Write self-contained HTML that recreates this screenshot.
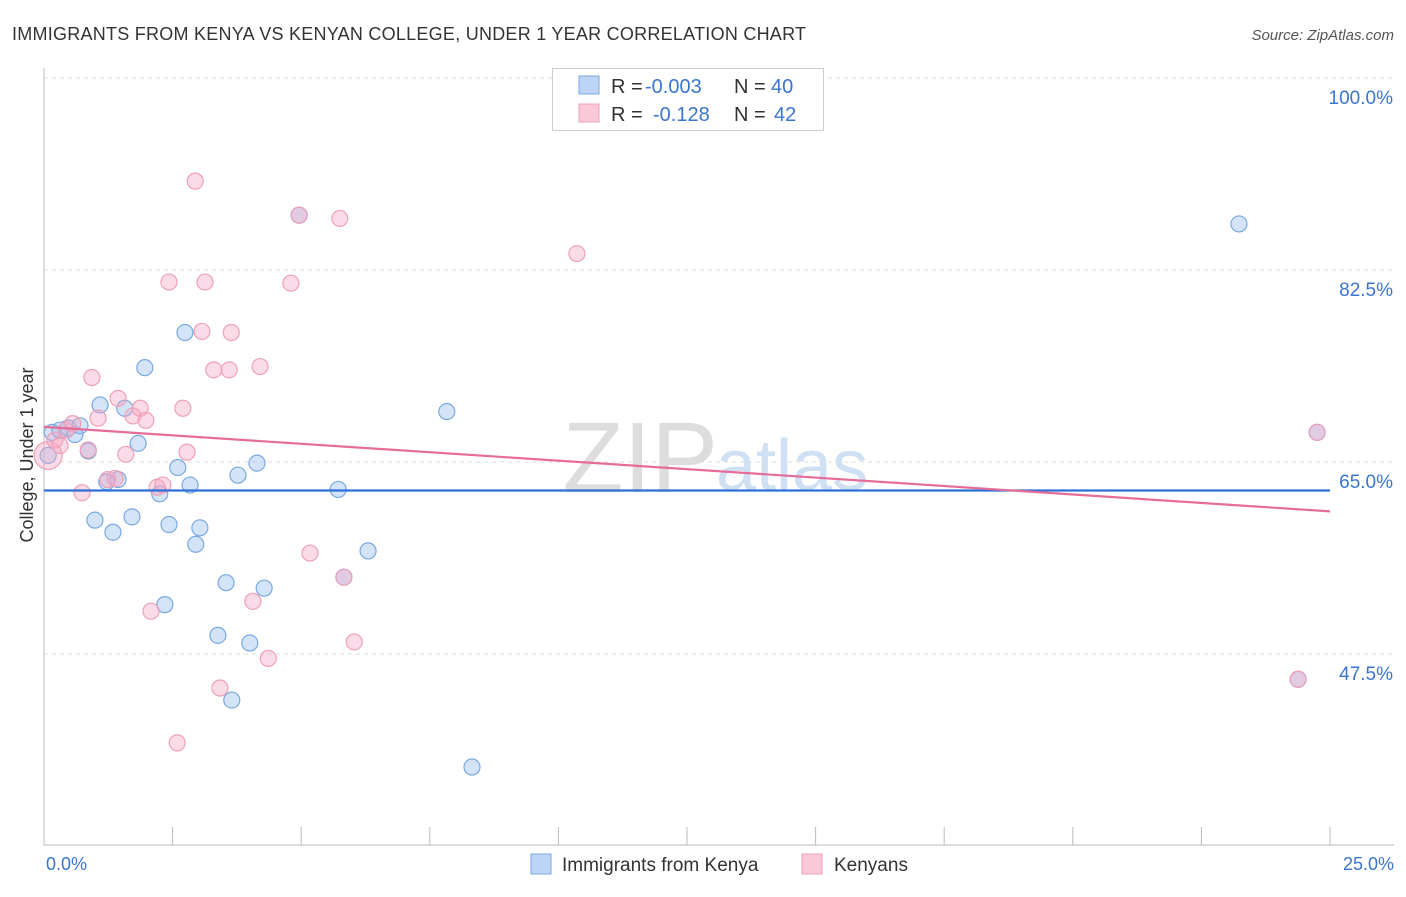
<!DOCTYPE html>
<html><head><meta charset="utf-8"><style>
body{margin:0;background:#fff;font-family:"Liberation Sans",sans-serif;}
svg text{font-family:"Liberation Sans",sans-serif;}
</style></head><body>
<svg id="chart" width="1406" height="892" viewBox="0 0 1406 892">
<text x="12" y="40" font-size="18" fill="#333" textLength="794" lengthAdjust="spacing">IMMIGRANTS FROM KENYA VS KENYAN COLLEGE, UNDER 1 YEAR CORRELATION CHART</text>
<text x="1394" y="40" font-size="15" fill="#555" text-anchor="end" font-style="italic">Source: ZipAtlas.com</text>
<g id="grid"></g>
<text x="718" y="492" font-size="100" font-family="Liberation Serif" fill="#ddd" text-anchor="end">ZIP</text>
<text x="716" y="490" font-size="72" fill="#cfe0f3">atlas</text>
<g id="axes"></g>
<g id="points"></g>
<g id="trend"></g>
<text x="33" y="455" font-size="18" fill="#333" text-anchor="middle" transform="rotate(-90 33 455)">College, Under 1 year</text>
<text x="46" y="870" font-size="18" fill="#3a75d0">0.0%</text>
<text x="1394" y="870" font-size="18" fill="#3a75d0" text-anchor="end">25.0%</text>
<g>
<rect x="552.5" y="68.5" width="271" height="62" fill="#fff" stroke="#ccc"/>
<rect x="579" y="76" width="20" height="18" fill="#bcd4f5" stroke="#7aa8e0"/>
<rect x="579" y="104" width="20" height="18" fill="#f9c9d8" stroke="#eea0b8"/>
<text x="611" y="93" font-size="20" fill="#333">R =</text>
<text x="645" y="93" font-size="20" fill="#3a75d0">-0.003</text>
<text x="734" y="93" font-size="20" fill="#333">N =</text>
<text x="771" y="93" font-size="20" fill="#3a75d0">40</text>
<text x="611" y="121" font-size="20" fill="#333">R =</text>
<text x="653" y="121" font-size="20" fill="#3a75d0">-0.128</text>
<text x="734" y="121" font-size="20" fill="#333">N =</text>
<text x="774" y="121" font-size="20" fill="#3a75d0">42</text>
</g>
<g>
<rect x="531" y="854" width="20" height="20" fill="#bcd4f5" stroke="#7aa8e0"/>
<text x="562" y="871" font-size="19" fill="#333">Immigrants from Kenya</text>
<rect x="802" y="854" width="20" height="20" fill="#f9c9d8" stroke="#eea0b8"/>
<text x="834" y="871" font-size="19" fill="#333">Kenyans</text>
</g>
</svg>
<script>
const yTicks=[100,82.5,65,47.5];
const yTickLabels=["100.0%","82.5%","65.0%","47.5%"];
const blueX=[0.16,0.31,0.47,0.60,0.70,0.86,1.09,1.22,1.44,0.99,1.34,1.57,1.71,1.83,1.96,2.25,2.35,2.43,2.60,2.74,2.84,2.95,3.03,3.38,3.54,3.65,3.77,4.00,4.14,4.28,4.96,5.72,5.83,6.30,7.83,8.32,23.23,24.75,24.38,0.08];
const blueY=[67.7,67.9,68.1,67.5,68.3,66.0,70.2,63.2,63.4,59.7,58.6,69.9,60.0,66.7,73.6,62.1,52.0,59.3,64.5,76.8,62.9,57.5,59.0,49.2,54.0,43.3,63.8,48.5,64.9,53.5,87.5,62.5,54.5,56.9,69.6,37.2,86.7,67.7,45.2,65.6];
const pinkX=[0.08,0.21,0.31,0.56,0.74,0.93,1.05,1.24,1.38,1.44,1.59,1.73,1.87,1.98,2.08,2.20,2.31,2.43,2.59,2.70,2.78,2.94,3.07,3.13,3.30,3.42,3.60,3.64,4.06,4.20,4.36,4.80,4.96,5.17,5.75,5.83,6.03,10.36,24.75,24.38,0.86,0.43];
const pinkY=[65.6,67.0,66.5,68.5,62.2,72.7,69.0,63.4,63.5,70.8,65.7,69.2,69.9,68.8,51.4,62.7,62.9,81.4,39.4,69.9,65.9,90.6,76.9,81.4,73.4,44.4,73.4,76.8,52.3,73.7,47.1,81.3,87.5,56.7,87.2,54.5,48.6,84.0,67.7,45.2,66.1,67.9];
const blueTrend=[62.4,62.4];
const pinkTrend=[68.2,60.5];
const X0=44,X1=1330,Y100=78,PPU=192/17.5;
const sx=v=>X0+(X1-X0)*v/25;
const sy=v=>Y100+(100-v)*PPU;
const NS="http://www.w3.org/2000/svg";
function mk(tag,attrs,parent){const e=document.createElementNS(NS,tag);for(const k in attrs)e.setAttribute(k,attrs[k]);parent.appendChild(e);return e;}
const grid=document.getElementById('grid'),axes=document.getElementById('axes'),pts=document.getElementById('points'),tr=document.getElementById('trend');
yTicks.forEach((t,i)=>{
 const l=mk('line',{x1:44,x2:1394,y1:sy(t),y2:sy(t),stroke:'#ddd','stroke-dasharray':'4,4'},grid);
 
 
 const tx=mk('text',{x:1393,y:sy(t)+26,'font-size':19,fill:'#3a75d0','text-anchor':'end'},grid);
 tx.textContent=yTickLabels[i];
 
 
});
mk('line',{x1:44,x2:44,y1:68,y2:845,stroke:'#bbb'},axes);
mk('line',{x1:44,x2:1394,y1:845,y2:845,stroke:'#bbb'},axes);
for(let i=0;i<=10;i++){const t=mk('line',{x1:sx(i*2.5),x2:sx(i*2.5),y1:827,y2:845,stroke:'#bbb'},axes);
 
 }
function dots(xs,ys,fill,stroke,name){xs.forEach((x,i)=>{const big=(i===0&&name==='kenyans-point');
 const c=mk('circle',{cx:sx(x),cy:sy(ys[i]),r:big?14:8,fill:fill,stroke:stroke,'stroke-width':1.2},pts);
 
 });}
dots(blueX,blueY,'rgba(160,195,240,0.45)','#7aa8e0','kenya-point');
dots(pinkX,pinkY,'rgba(245,165,195,0.4)','#eea0b8','kenyans-point');
const bl=mk('line',{x1:sx(0),x2:sx(25),y1:sy(blueTrend[0]),y2:sy(blueTrend[1]),stroke:'#2f6fd6','stroke-width':2.2},tr);


const pl=mk('line',{x1:sx(0),x2:sx(25),y1:sy(pinkTrend[0]),y2:sy(pinkTrend[1]),stroke:'#e56d98','stroke-width':2.2},tr);


</script>
</body></html>
